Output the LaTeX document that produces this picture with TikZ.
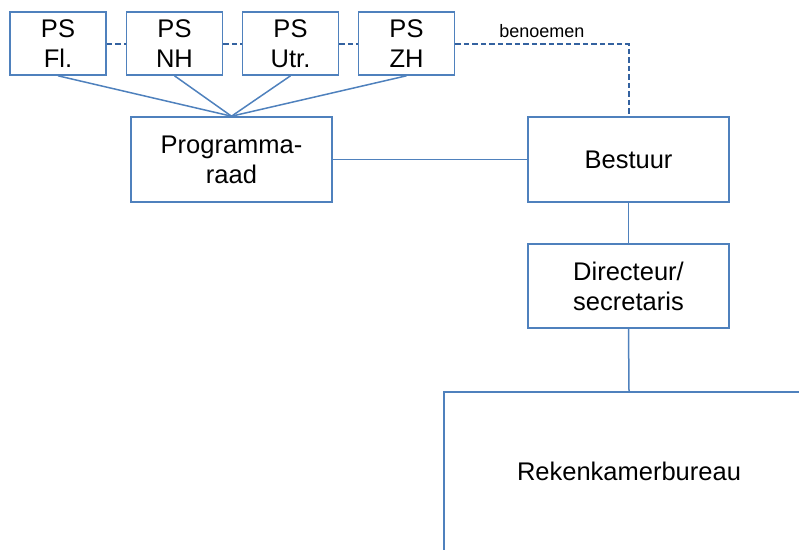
\documentclass[tikz,border=0pt]{standalone}
\usepackage{fontspec}
\setmainfont{Liberation Sans}
\definecolor{orgline}{RGB}{79,129,189}
\definecolor{orgdash}{RGB}{52,98,160}
\tikzset{
  orgbox/.style={draw=orgline, line width=1.6pt, fill=white, align=center,
    inner sep=0pt, font=\fontsize{25.5}{30}\selectfont},
  psbox/.style={orgbox, minimum width=96pt, minimum height=63pt},
  bigbox/.style={orgbox, minimum width=201pt, minimum height=85pt},
  link/.style={draw=orgline, line width=1.5pt},
  dashlink/.style={draw=orgdash, line width=2pt, dash pattern=on 5.5pt off 3pt},
}
\begin{document}
\begin{tikzpicture}[x=1pt, y=-1pt]
  \useasboundingbox (0,0) rectangle (799,549);
  \clip (0,0) rectangle (799,549);

  % provinciale staten
  \node[psbox] (fl)  at (58,43.5)    {PS\\Fl.};
  \node[psbox] (nh)  at (174.5,43.5) {PS\\NH};
  \node[psbox] (utr) at (290.5,43.5) {PS\\Utr.};
  \node[psbox] (zh)  at (406.5,43.5) {PS\\ZH};

  % main bodies; the bureau box runs off the page
  \node[bigbox] (prog) at (231.5,159.5) {Programma-\\raad};
  \node[bigbox] (best) at (628.5,159.5) {Bestuur};
  \node[bigbox, minimum height=84pt] (dir) at (628.5,286) {Directeur/\\secretaris};
  \node[orgbox, minimum width=370pt, minimum height=159pt] (bureau) at (629,471.5) {Rekenkamerbureau};

  % dashed links between the states and to the board
  \draw[dashlink] (fl.east) -- (nh.west);
  \draw[dashlink] (nh.east) -- (utr.west);
  \draw[dashlink] (utr.east) -- (zh.west);
  \draw[dashlink] (zh.east) -| node[pos=0.25, above=1pt, font=\fontsize{18}{20}\selectfont] {benoemen} (best.north);

  % states to the programme council
  \foreach \p in {fl,nh,utr,zh} \draw[link] (\p.south) -- (prog.north);

  % hierarchy
  \draw[link] (prog.east) -- (best.west);
  \draw[link] (best.south) -- (dir.north);
  \draw[link] (dir.south) -- (bureau.north);
\end{tikzpicture}
\end{document}
